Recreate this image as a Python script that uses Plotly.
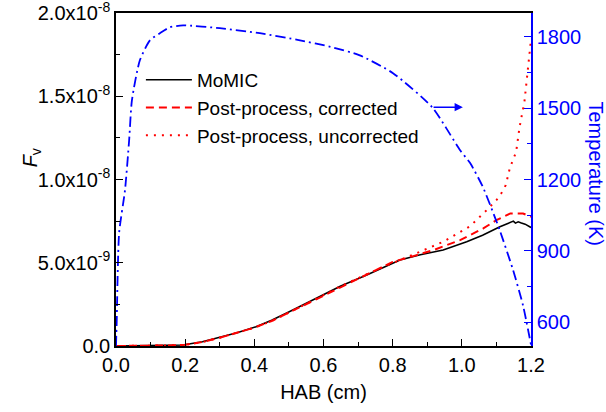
import plotly.graph_objects as go

# Soot volume fraction vs height above burner
hab_momic = [0, 0.1, 0.15, 0.193, 0.25, 0.289, 0.35, 0.405, 0.45, 0.501, 0.578, 0.65,
             0.725, 0.821, 0.88, 0.946, 1.014, 1.06, 1.11, 1.13, 1.14, 1.149, 1.155,
             1.163, 1.17, 1.183, 1.2]
fv_momic = [0, 0.001e-8, 0.003e-8, 0.006e-8, 0.025e-8, 0.046e-8, 0.08e-8, 0.116e-8,
            0.155e-8, 0.206e-8, 0.286e-8, 0.36e-8, 0.426e-8, 0.516e-8, 0.548e-8,
            0.576e-8, 0.626e-8, 0.665e-8, 0.716e-8, 0.735e-8, 0.745e-8, 0.75e-8,
            0.738e-8, 0.746e-8, 0.74e-8, 0.732e-8, 0.712e-8]

hab_corr = [0, 0.1, 0.15, 0.2, 0.25, 0.3, 0.35, 0.4, 0.45, 0.5, 0.58, 0.65, 0.725,
            0.8, 0.86, 0.918, 0.995, 1.062, 1.1, 1.14, 1.177, 1.2]
fv_corr = [0, 0.001e-8, 0.003e-8, 0.007e-8, 0.024e-8, 0.05e-8, 0.078e-8, 0.11e-8,
           0.15e-8, 0.2e-8, 0.282e-8, 0.355e-8, 0.43e-8, 0.505e-8, 0.54e-8, 0.576e-8,
           0.636e-8, 0.706e-8, 0.756e-8, 0.796e-8, 0.796e-8, 0.776e-8]

hab_uncorr = [0, 0.1, 0.15, 0.2, 0.25, 0.3, 0.35, 0.4, 0.45, 0.5, 0.58, 0.65, 0.763,
              0.879, 0.946, 1.024, 1.048, 1.067, 1.1, 1.115, 1.127, 1.139, 1.157,
              1.167, 1.181, 1.192, 1.2]
fv_uncorr = [0, 0.001e-8, 0.003e-8, 0.007e-8, 0.024e-8, 0.05e-8, 0.078e-8, 0.11e-8,
             0.15e-8, 0.2e-8, 0.284e-8, 0.36e-8, 0.466e-8, 0.566e-8, 0.626e-8,
             0.72e-8, 0.766e-8, 0.806e-8, 0.876e-8, 0.92e-8, 0.966e-8, 1.07e-8,
             1.166e-8, 1.316e-8, 1.466e-8, 1.676e-8, 1.84e-8]

# Flame temperature profile
hab_temp = [0, 0.002, 0.009, 0.026, 0.038, 0.046, 0.069, 0.098, 0.127, 0.156, 0.194,
            0.3, 0.416, 0.532, 0.62, 0.705, 0.801, 0.914, 0.995, 1.024, 1.061, 1.096,
            1.11, 1.148, 1.177, 1.2]
temp_k = [500, 600, 975, 1155, 1365, 1533, 1701, 1785, 1815, 1840, 1848, 1836, 1815,
          1785, 1758, 1722, 1647, 1504, 1323, 1269, 1168, 1040, 985, 820, 670, 505]

fv_tickvals = [0, 5e-9, 1e-8, 1.5e-8, 2e-8]
fv_ticktext = ["0.0", "5.0x10<sup>-9</sup>", "1.0x10<sup>-8</sup>",
               "1.5x10<sup>-8</sup>", "2.0x10<sup>-8</sup>"]
temp_tickvals = [600, 900, 1200, 1500, 1800]

FONT = "Liberation Sans, Arial, sans-serif"
BLUE = "#0000ff"

fig = go.Figure()
fig.add_trace(go.Scatter(x=hab_momic, y=fv_momic, mode="lines", name="MoMIC",
                         line=dict(color="black", width=1.6)))
fig.add_trace(go.Scatter(x=hab_corr, y=fv_corr, mode="lines",
                         name="Post-process, corrected",
                         line=dict(color="red", width=2, dash="8px,5px")))
fig.add_trace(go.Scatter(x=hab_uncorr, y=fv_uncorr, mode="lines",
                         name="Post-process, uncorrected",
                         line=dict(color="red", width=2, dash="2px,6px")))
fig.add_trace(go.Scatter(x=hab_temp, y=temp_k, mode="lines", yaxis="y2",
                         showlegend=False,
                         line=dict(color=BLUE, width=1.8, dash="10px,4px,2px,4px",
                                   shape="spline", smoothing=0.6)))

# arrow pointing to the temperature axis
fig.add_annotation(x=1.003, y=1504, xref="x", yref="y2",
                   ax=0.914, ay=1504, axref="x", ayref="y2",
                   showarrow=True, arrowhead=2, arrowsize=1.1, arrowwidth=1.5,
                   arrowcolor=BLUE, text="")

# left axis title
fig.add_annotation(x=0, xref="paper", xshift=-99, y=0.565, yref="paper",
                   text="<i>F</i><sub>v</sub>", textangle=-90, showarrow=False,
                   font=dict(family=FONT, size=20, color="black"))

# right axis title reads top to bottom
fig.add_annotation(x=1.0, xref="paper", xanchor="center", xshift=65,
                   y=0.5, yref="paper", yshift=6, text="Temperature (K)",
                   textangle=90, showarrow=False, borderpad=0,
                   font=dict(family=FONT, size=20, color=BLUE))

fig.update_layout(
    width=606, height=412,
    margin=dict(l=116, r=75, t=13, b=66, autoexpand=False),
    paper_bgcolor="white", plot_bgcolor="white",
    font=dict(family=FONT, size=20, color="black"),
    showlegend=True,
    legend=dict(x=0.06, y=0.856, xanchor="left", yanchor="top", itemwidth=46,
                bgcolor="rgba(0,0,0,0)", font=dict(size=19)),
    xaxis=dict(range=[0, 1.2], tickmode="linear", tick0=0, dtick=0.2,
               tickformat=".1f", showgrid=False, zeroline=False, automargin=False,
               showline=True, linecolor="black", linewidth=1.5, mirror=True,
               ticks="inside", ticklen=7, tickwidth=1.3, tickcolor="black",
               tickfont=dict(size=20), ticklabeloverflow="allow",
               minor=dict(dtick=0.1, tick0=0, ticks="inside", ticklen=4,
                          tickcolor="black", tickwidth=1.3),
               title=dict(text="HAB (cm)", standoff=10, font=dict(size=20))),
    yaxis=dict(range=[0, 2.00001e-8], tickmode="array", tickvals=fv_tickvals,
               ticktext=fv_ticktext, showgrid=False, zeroline=False,
               automargin=False,
               showline=True, linecolor="black", linewidth=1.5,
               ticks="inside", ticklen=7, tickwidth=1.3, tickcolor="black",
               tickfont=dict(size=20), ticklabeloverflow="allow",
               minor=dict(dtick=2.5e-9, tick0=0, ticks="inside", ticklen=4,
                          tickcolor="black", tickwidth=1.3)),
    yaxis2=dict(range=[500, 1900], overlaying="y", side="right",
                tickmode="array", tickvals=temp_tickvals, showgrid=False,
                zeroline=False, showline=True, linecolor=BLUE, linewidth=1.5,
                automargin=False,
                ticks="inside", ticklen=7, tickwidth=1.3, tickcolor=BLUE,
                tickfont=dict(color=BLUE, size=20), ticklabeloverflow="allow",
                minor=dict(dtick=150, tick0=600, ticks="inside", ticklen=4,
                           tickcolor=BLUE, tickwidth=1.3)),
)

fig.write_html("out.html")
